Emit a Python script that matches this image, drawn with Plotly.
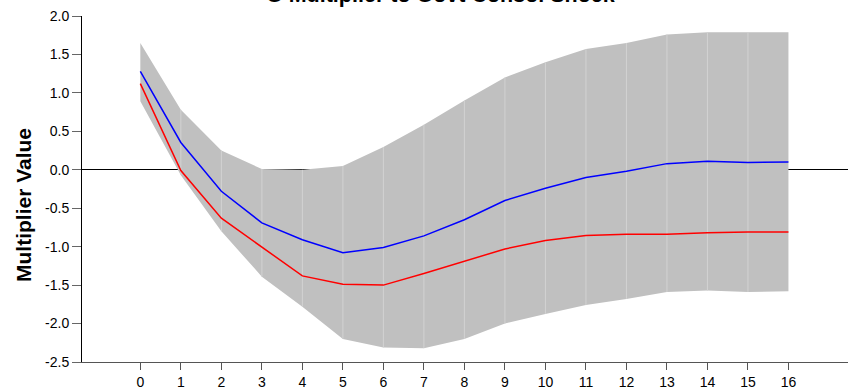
import plotly.graph_objects as go

horizon = list(range(17))
blue_vals = [1.28, 0.355, -0.28, -0.69, -0.91, -1.08, -1.01, -0.86, -0.65, -0.40, -0.24, -0.10, -0.02, 0.08, 0.11, 0.095, 0.10]
red_vals = [1.12, -0.01, -0.63, -1.01, -1.38, -1.49, -1.50, -1.35, -1.19, -1.03, -0.92, -0.855, -0.84, -0.84, -0.82, -0.81, -0.81]
band_upper = [1.65, 0.78, 0.25, 0.01, 0.0, 0.05, 0.295, 0.586, 0.90, 1.20, 1.40, 1.57, 1.65, 1.76, 1.79, 1.79, 1.79]
band_lower = [0.89, -0.07, -0.80, -1.39, -1.78, -2.20, -2.31, -2.32, -2.20, -2.00, -1.875, -1.76, -1.68, -1.59, -1.57, -1.59, -1.58]
y_ticks = [2.0, 1.5, 1.0, 0.5, 0.0, -0.5, -1.0, -1.5, -2.0, -2.5]
title_text = "G Multiplier to Govt Consol Shock"
y_title = "Multiplier Value"

FONT = "Liberation Sans, Arial, sans-serif"

fig = go.Figure()
fig.add_trace(go.Scatter(x=horizon, y=band_lower, mode="lines", line=dict(width=0, color="#c0c0c0"),
                         showlegend=False, hoverinfo="skip"))
fig.add_trace(go.Scatter(x=horizon, y=band_upper, mode="lines", line=dict(width=0, color="#c0c0c0"),
                         fill="tonexty", fillcolor="#c0c0c0", showlegend=False, hoverinfo="skip"))
# faint seams between band segments
seam_x, seam_y = [], []
for i in horizon[1:-1]:
    seam_x += [i, i, None]
    seam_y += [band_lower[i], band_upper[i], None]
fig.add_trace(go.Scatter(x=seam_x, y=seam_y, mode="lines", line=dict(width=1, color="#d2d2d2"),
                         showlegend=False, hoverinfo="skip"))
fig.add_trace(go.Scatter(x=horizon, y=blue_vals, mode="lines", line=dict(width=1.5, color="#0000ff"),
                         showlegend=False))
fig.add_trace(go.Scatter(x=horizon, y=red_vals, mode="lines", line=dict(width=1.5, color="#ff0000"),
                         showlegend=False))

# title (partly above the top edge, as in the reference)
fig.add_annotation(text="<b>" + title_text + "</b>", xref="paper", yref="paper",
                   x=(440 - 82) / 766, y=1.0, xanchor="center", yanchor="bottom", yshift=7,
                   showarrow=False, font=dict(family=FONT, size=21.5, color="#000"))
# y-axis title
fig.add_annotation(text="<b>" + y_title + "</b>", xref="paper", yref="paper",
                   x=0, y=(362 - 205) / 346, xanchor="center", yanchor="middle", xshift=-59,
                   textangle=-90, showarrow=False, font=dict(family=FONT, size=21, color="#000"))

fig.update_layout(
    width=848, height=391,
    margin=dict(l=82, r=0, t=16, b=29),
    paper_bgcolor="white", plot_bgcolor="white",
    font=dict(family=FONT, size=14, color="#000"),
    xaxis=dict(range=[-1.44, 17.47], tickmode="array", tickvals=horizon, ticktext=[str(h) for h in horizon],
               showgrid=False, zeroline=False, showline=True, linecolor="#555", linewidth=1,
               ticks="outside", ticklen=7, tickcolor="#555", tickfont=dict(size=14)),
    yaxis=dict(range=[-2.5, 2.0], tickmode="array", tickvals=y_ticks, ticktext=["%.1f" % v for v in y_ticks],
               showgrid=False, zeroline=True, zerolinecolor="#000", zerolinewidth=1,
               showline=True, linecolor="#000", linewidth=1,
               ticks="outside", ticklen=9, tickcolor="#666", tickfont=dict(size=14)),
)

fig.write_html("out.html", config={"displayModeBar": False},
               post_script="document.body.style.margin='0';document.body.style.overflow='hidden';")
